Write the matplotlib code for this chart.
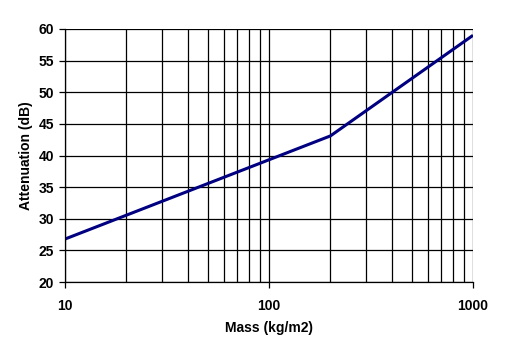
import matplotlib
matplotlib.use('Agg')
import matplotlib.pyplot as plt
from matplotlib.ticker import FixedLocator, NullFormatter

plt.rcParams['font.family'] = ['Liberation Sans', 'DejaVu Sans']
plt.rcParams['font.weight'] = 'bold'

# data
mass = [10, 200, 1000]
attenuation = [26.8, 43.1, 59.0]
y_ticks = [20, 25, 30, 35, 40, 45, 50, 55, 60]

fig = plt.figure(figsize=(5.1, 3.39), dpi=100)
ax = fig.add_axes([0.1275, 0.168, 0.8, 0.7465])

ax.plot(mass, attenuation, color='#000080', linewidth=2.2, solid_capstyle='butt')

ax.set_xscale('log')
ax.set_xlim(10, 1000)
ax.set_ylim(20, 60)
ax.set_yticks(y_ticks)
ax.set_xticks([10, 100, 1000])
ax.set_xticklabels(['10', '100', '1000'])
ax.xaxis.set_minor_locator(FixedLocator([m * d for d in (10, 100) for m in range(2, 10)]))
ax.xaxis.set_minor_formatter(NullFormatter())

ax.grid(True, which='both', color='black', linewidth=0.9)
ax.tick_params(axis='y', which='both', length=4, width=0.9, labelsize=10, pad=4)
ax.tick_params(axis='x', which='major', length=4, width=0.9, labelsize=10, pad=8)
ax.tick_params(axis='x', which='minor', length=0)

for side in ['top', 'right']:
    ax.spines[side].set_visible(False)
for side in ['left', 'bottom']:
    ax.spines[side].set_linewidth(0.9)

ax.set_xlabel('Mass (kg/m2)', fontsize=10, fontweight='bold', labelpad=6)
ax.set_ylabel('Attenuation (dB)', fontsize=10, fontweight='bold', labelpad=4)

fig.savefig('out.png', dpi=100)
